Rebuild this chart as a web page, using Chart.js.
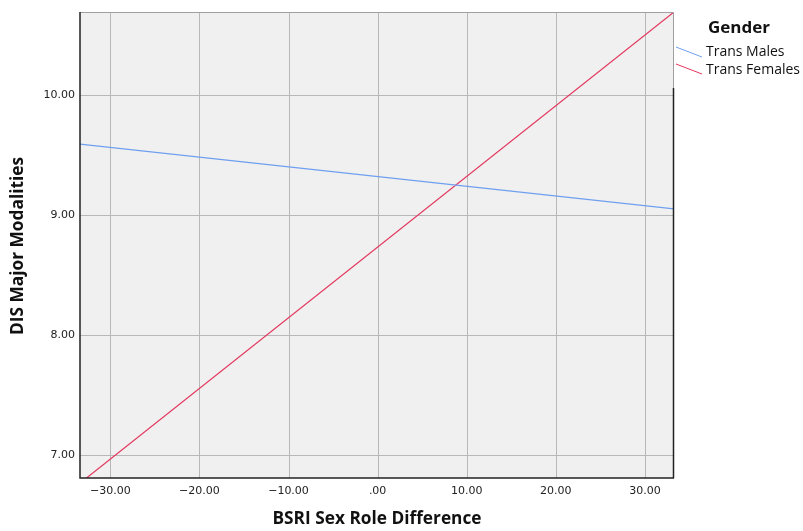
<!DOCTYPE html>
<html>
<head>
<meta charset="utf-8">
<script src="https://cdn.jsdelivr.net/npm/chart.js@4/dist/chart.umd.min.js"></script>
<style>
  html, body { margin: 0; padding: 0; background: #fff; }
  #wrap { width: 803px; height: 531px; }
</style>
</head>
<body>
<div id="wrap"><canvas id="chart" width="803" height="531"></canvas></div>
<script>
// fitted lines (value at each end of the x range)
const xRange = [-33.4, 33.26];
const yRange = [6.81, 10.69];
const seriesNames = ['Trans Males', 'Trans Females'];
const transMales = [9.59, 9.05];
const transFemales = [6.767, 10.69];
const xTicks = [-30, -20, -10, 0, 10, 20, 30];
const yTicks = [7, 8, 9, 10];
const colors = ['#6f9ff0', '#e3375e'];

function fmt(v) {
  if (v === 0) return '.00';
  return (v < 0 ? '\u2212' : '') + Math.abs(v).toFixed(2);
}

const frameAndText = {
  id: 'frameAndText',
  beforeDatasetsDraw(chart) {
    const { ctx, chartArea: a } = chart;
    ctx.save();
    ctx.fillStyle = '#f0f0f0';
    ctx.fillRect(a.left, a.top, a.right - a.left, a.bottom - a.top);
    // grid
    ctx.strokeStyle = '#b8b8b8';
    ctx.lineWidth = 1;
    const xs = chart.scales.x, ys = chart.scales.y;
    xTicks.forEach(v => {
      const px = Math.round(xs.getPixelForValue(v)) + 0.5;
      ctx.beginPath(); ctx.moveTo(px, a.top); ctx.lineTo(px, a.bottom); ctx.stroke();
    });
    yTicks.forEach(v => {
      const py = Math.round(ys.getPixelForValue(v)) + 0.5;
      ctx.beginPath(); ctx.moveTo(a.left, py); ctx.lineTo(a.right, py); ctx.stroke();
    });
    ctx.restore();
  },
  afterDraw(chart) {
    const { ctx, chartArea: a } = chart;
    ctx.save();
    // frame
    ctx.lineWidth = 1;
    ctx.strokeStyle = '#a0a0a0';
    ctx.beginPath(); ctx.moveTo(a.left, a.top + 0.5); ctx.lineTo(a.right, a.top + 0.5); ctx.stroke();
    ctx.beginPath(); ctx.moveTo(a.right - 0.5, a.top); ctx.lineTo(a.right - 0.5, 88); ctx.stroke();
    ctx.strokeStyle = '#222';
    ctx.lineWidth = 1.5;
    ctx.beginPath(); ctx.moveTo(a.right - 0.5, 88); ctx.lineTo(a.right - 0.5, a.bottom); ctx.stroke();
    ctx.beginPath(); ctx.moveTo(a.left, a.top); ctx.lineTo(a.left, a.bottom); ctx.lineTo(a.right, a.bottom); ctx.stroke();

    // axis titles
    ctx.fillStyle = '#111';
    ctx.textAlign = 'center';
    ctx.textBaseline = 'middle';
    ctx.font = 'bold 17px "Open Sans"';
    let w = ctx.measureText('BSRI Sex Role Difference').width;
    ctx.save();
    ctx.translate(377, 519);
    ctx.scale(209 / w, 1);
    ctx.fillText('BSRI Sex Role Difference', 0, 0);
    ctx.restore();
    w = ctx.measureText('DIS Major Modalities').width;
    ctx.save();
    ctx.translate(18, 246);
    ctx.rotate(-Math.PI / 2);
    ctx.scale(178 / w, 1);
    ctx.fillText('DIS Major Modalities', 0, 0);
    ctx.restore();

    // legend
    ctx.textAlign = 'left';
    ctx.font = 'bold 16px "Open Sans"';
    w = ctx.measureText('Gender').width;
    ctx.save();
    ctx.translate(708, 28);
    ctx.scale(62 / w, 1);
    ctx.fillText('Gender', 0, 0);
    ctx.restore();
    ctx.font = '14px "Open Sans"';
    seriesNames.forEach((name, i) => {
      const y0 = 47 + i * 17;
      ctx.strokeStyle = colors[i];
      ctx.lineWidth = 1;
      ctx.beginPath(); ctx.moveTo(676, y0); ctx.lineTo(702, y0 + 10); ctx.stroke();
      ctx.fillStyle = '#111';
      ctx.fillText(name, 706, 52 + i * 18);
    });
    ctx.restore();
  }
};

new Chart(document.getElementById('chart'), {
  type: 'scatter',
  data: {
    datasets: [
      { label: seriesNames[0], data: xRange.map((x, i) => ({ x, y: transMales[i] })) },
      { label: seriesNames[1], data: xRange.map((x, i) => ({ x, y: transFemales[i] })) }
    ].map((d, i) => Object.assign(d, {
      showLine: true, borderColor: colors[i], borderWidth: 1.2, pointRadius: 0, fill: false
    }))
  },
  options: {
    responsive: false,
    animation: false,
    layout: { padding: { top: 12, right: 129, left: 0, bottom: 0 } },
    plugins: { legend: { display: false }, tooltip: { enabled: false } },
    scales: {
      x: {
        type: 'linear', min: xRange[0], max: xRange[1],
        afterBuildTicks: s => { s.ticks = xTicks.map(v => ({ value: v })); },
        afterFit: s => { s.height = 53; },
        grid: { display: false, drawTicks: false },
        border: { display: false },
        ticks: { callback: v => fmt(v), color: '#222', font: { family: 'DejaVu Sans', size: 11 }, padding: 7, maxRotation: 0 }
      },
      y: {
        type: 'linear', min: yRange[0], max: yRange[1],
        afterBuildTicks: s => { s.ticks = yTicks.map(v => ({ value: v })); },
        afterFit: s => { s.width = 80; },
        grid: { display: false, drawTicks: false },
        border: { display: false },
        ticks: { callback: v => fmt(v), color: '#222', font: { family: 'DejaVu Sans', size: 11 }, padding: 5 }
      }
    }
  },
  plugins: [frameAndText]
});
</script>
</body>
</html>
